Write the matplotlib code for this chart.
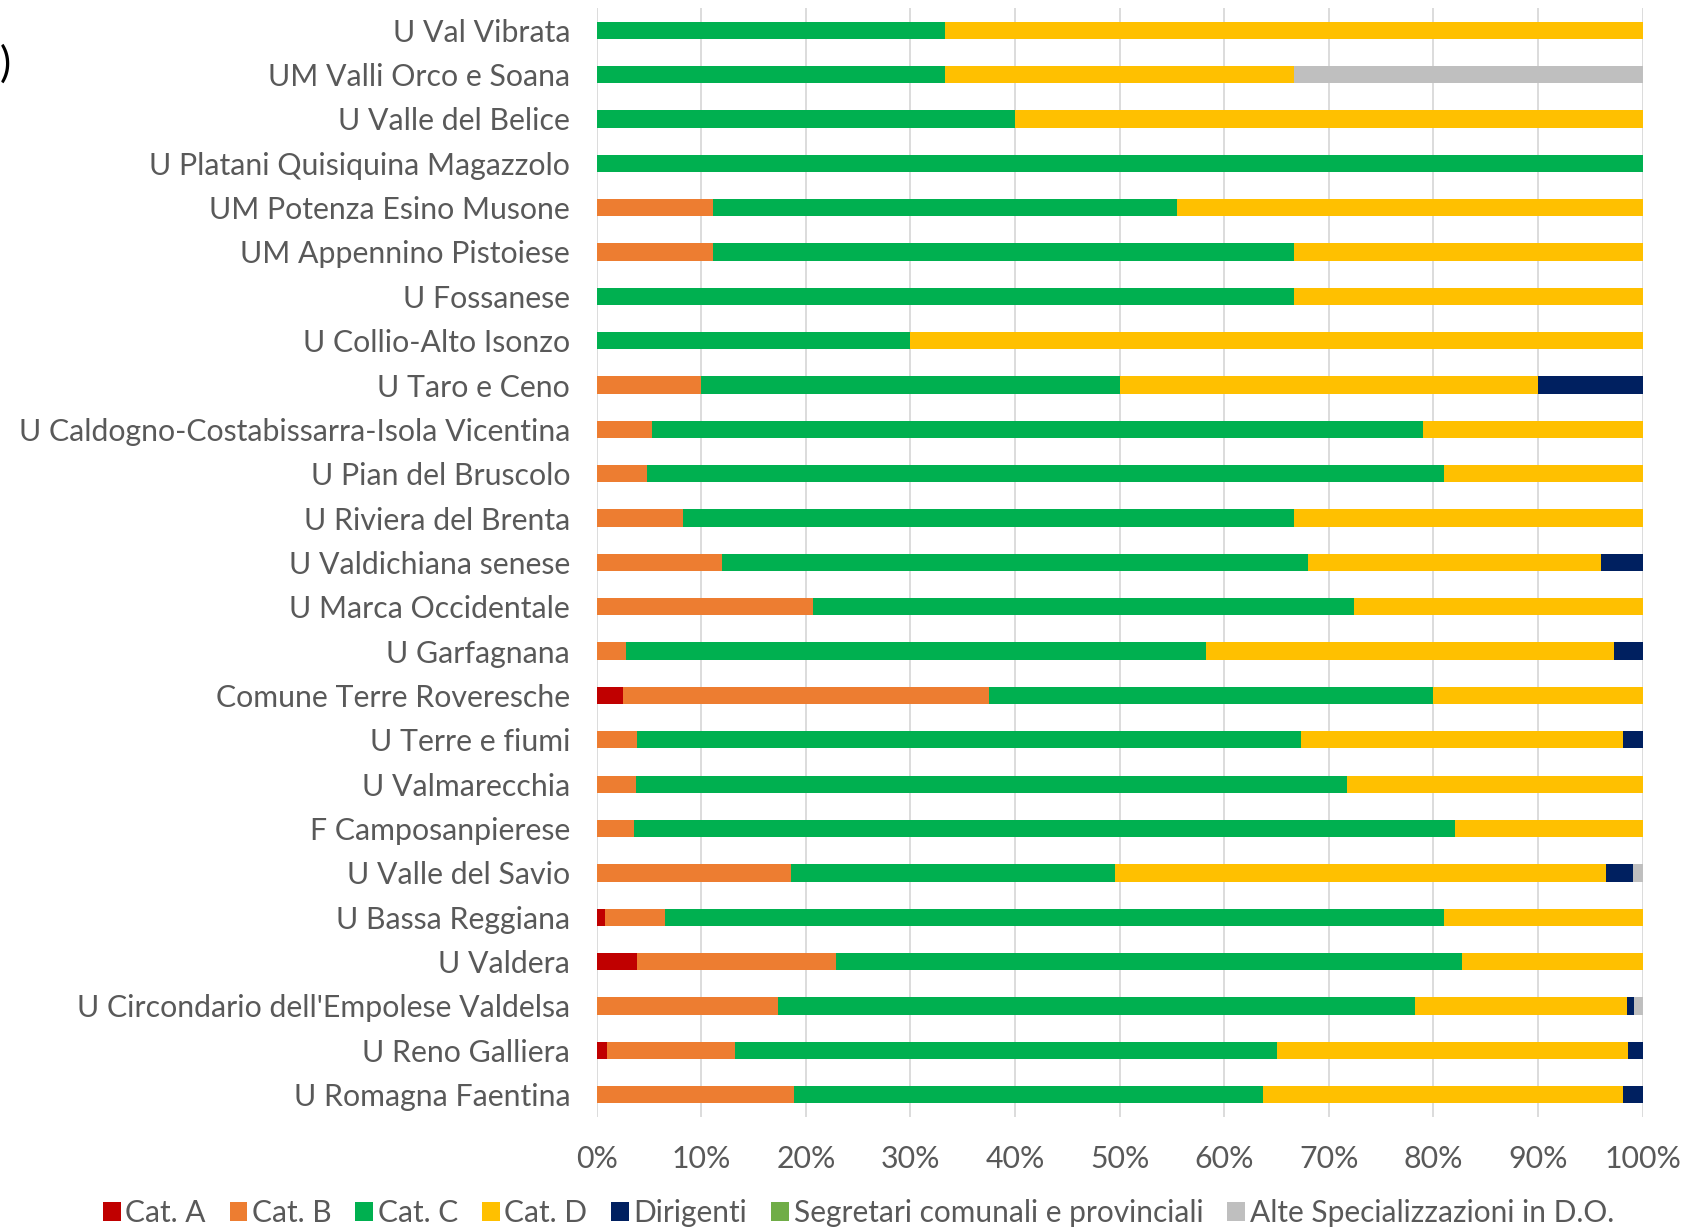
import matplotlib
matplotlib.use("Agg")
import matplotlib.pyplot as plt
import numpy as np

categories = [
    "U Val Vibrata", "UM Valli Orco e Soana", "U Valle del Belice",
    "U Platani Quisiquina Magazzolo", "UM Potenza Esino Musone",
    "UM Appennino Pistoiese", "U Fossanese", "U Collio-Alto Isonzo",
    "U Taro e Ceno", "U Caldogno-Costabissarra-Isola Vicentina",
    "U Pian del Bruscolo", "U Riviera del Brenta", "U Valdichiana senese",
    "U Marca Occidentale", "U Garfagnana", "Comune Terre Roveresche",
    "U Terre e fiumi", "U Valmarecchia", "F Camposanpierese",
    "U Valle del Savio", "U Bassa Reggiana", "U Valdera",
    "U Circondario dell'Empolese Valdelsa", "U Reno Galliera",
    "U Romagna Faentina",
]

cat_a = [0, 0, 0, 0, 0, 0, 0, 0, 0, 0, 0, 0, 0, 0, 0, 2.5, 0, 0, 0, 0, 0.8, 3.9, 0, 1.0, 0]
cat_b = [0, 0, 0, 0, 11.1, 11.1, 0, 0, 10.0, 5.3, 4.8, 8.3, 12.0, 20.7, 2.8, 35.0, 3.9, 3.8, 3.6, 18.6, 5.7, 19.0, 17.3, 12.2, 18.9]
cat_c = [33.3, 33.3, 40.0, 100.0, 44.4, 55.6, 66.7, 30.0, 40.0, 73.7, 76.2, 58.4, 56.0, 51.7, 55.5, 42.5, 63.4, 67.9, 78.5, 31.0, 74.5, 59.8, 60.9, 51.8, 44.8]
cat_d = [66.7, 33.4, 60.0, 0, 44.5, 33.3, 33.3, 70.0, 40.0, 21.0, 19.0, 33.3, 28.0, 27.6, 39.0, 20.0, 30.8, 28.3, 17.9, 46.9, 19.0, 17.3, 20.3, 33.6, 34.4]
dirigenti = [0, 0, 0, 0, 0, 0, 0, 0, 10.0, 0, 0, 0, 4.0, 0, 2.7, 0, 1.9, 0, 0, 2.6, 0, 0, 0.7, 1.4, 1.9]
segretari = [0] * 25
alte_spec = [0, 33.3, 0, 0, 0, 0, 0, 0, 0, 0, 0, 0, 0, 0, 0, 0, 0, 0, 0, 0.9, 0, 0, 0.8, 0, 0]

series_names = ["Cat. A", "Cat. B", "Cat. C", "Cat. D", "Dirigenti",
                "Segretari comunali e provinciali", "Alte Specializzazioni in D.O."]
series = [cat_a, cat_b, cat_c, cat_d, dirigenti, segretari, alte_spec]
colors = ["#C00000", "#ED7D31", "#00B050", "#FFC000", "#002060", "#70AD47", "#BFBFBF"]

xticks = [0, 10, 20, 30, 40, 50, 60, 70, 80, 90, 100]
xticklabels = [f"{t}%" for t in xticks]

plt.rcParams['font.family'] = ['Lato', 'DejaVu Sans']
text_color = "#595959"

fig = plt.figure(figsize=(16.83, 12.30), dpi=100)
ax = fig.add_axes([0.3545, 0.092, 0.6215, 0.9015])

y = np.arange(len(categories))[::-1]
data = np.array(series, dtype=float)
totals = data.sum(axis=0)
data = data / totals * 100
left = np.zeros(len(categories))
handles = []
for vals, name, col in zip(data, series_names, colors):
    h = ax.barh(y, vals, left=left, height=0.39, color=col, label=name, linewidth=0)
    handles.append(h)
    left += vals

ax.set_xlim(0, 100)
ax.set_ylim(-0.5, len(categories) - 0.5)
ax.set_xticks(xticks)
ax.set_xticklabels(xticklabels)
ax.set_yticks(y)
ax.set_yticklabels(categories)
ax.tick_params(axis='both', length=0, labelsize=21.8, labelcolor=text_color)
ax.tick_params(axis='y', pad=19)
ax.tick_params(axis='x', pad=20)
ax.xaxis.grid(True, color="#D9D9D9", linewidth=1.3)
ax.set_axisbelow(True)
for s in ax.spines.values():
    s.set_visible(False)

leg = fig.legend(handles=handles, labels=series_names, loc='center',
                 bbox_to_anchor=(0.51, 0.0135), ncol=7, frameon=False,
                 fontsize=21.5, handlelength=0.6, handleheight=0.6,
                 handletextpad=0.15, columnspacing=0.8, borderaxespad=0)
for t in leg.get_texts():
    t.set_color(text_color)

fig.text(0.0, 0.948, ")", fontsize=30, color="black", va='center', ha='left')

fig.savefig("out.png", dpi=100)
